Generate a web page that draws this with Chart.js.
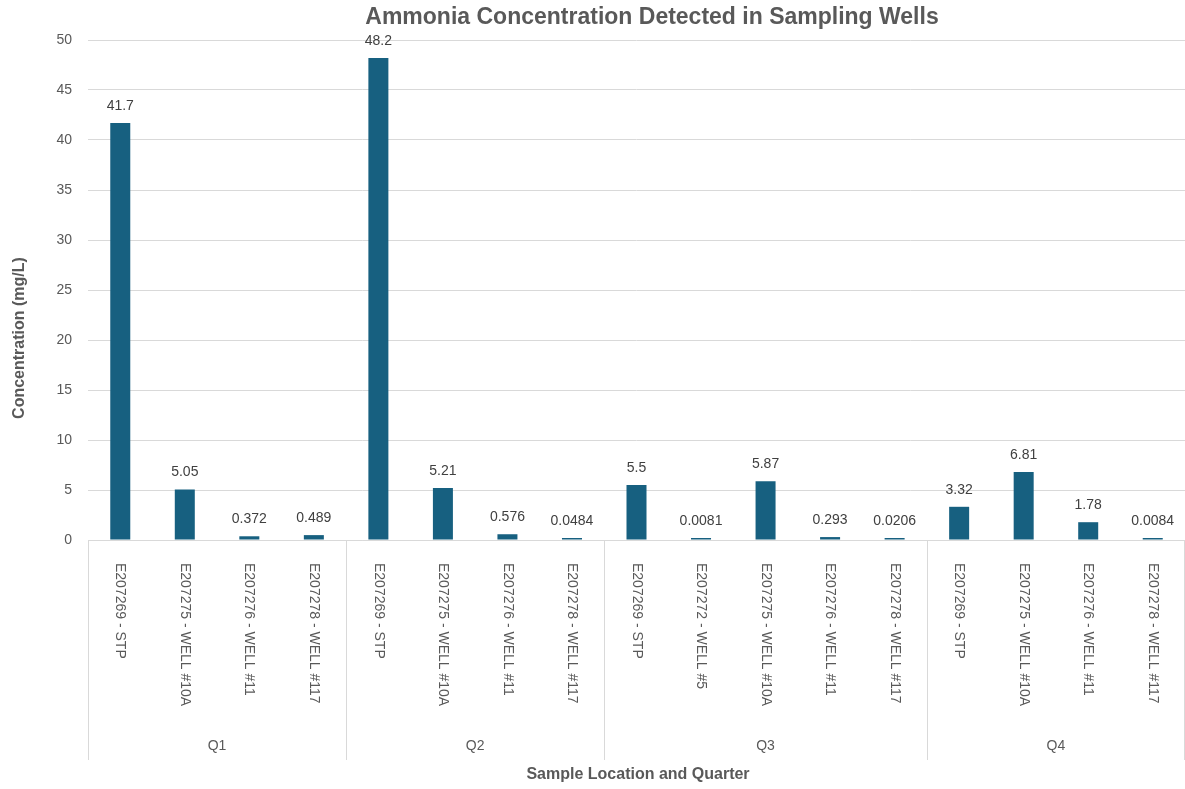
<!DOCTYPE html>
<html>
<head>
<meta charset="utf-8">
<script src="https://cdn.jsdelivr.net/npm/chart.js@4"></script>
<style>
  html, body { margin: 0; padding: 0; background: #fff; }
  #wrap { width: 1185px; height: 789px; position: relative; }
</style>
</head>
<body>
<div id="wrap"><canvas id="chart"></canvas></div>
<script>
// data
const sampleLabels = [
  "E207269 - STP", "E207275 - WELL #10A", "E207276 - WELL #11", "E207278 - WELL #117",
  "E207269 - STP", "E207275 - WELL #10A", "E207276 - WELL #11", "E207278 - WELL #117",
  "E207269 - STP", "E207272 - WELL #5", "E207275 - WELL #10A", "E207276 - WELL #11", "E207278 - WELL #117",
  "E207269 - STP", "E207275 - WELL #10A", "E207276 - WELL #11", "E207278 - WELL #117"
];
const quarters = ["Q1", "Q2", "Q3", "Q4"];
const quarterSizes = [4, 4, 5, 4];
const concentration = [
  41.7, 5.05, 0.372, 0.489,
  48.2, 5.21, 0.576, 0.0484,
  5.5, 0.0081, 5.87, 0.293, 0.0206,
  3.32, 6.81, 1.78, 0.0084
];
const yTicks = [0, 5, 10, 15, 20, 25, 30, 35, 40, 45, 50];

const FONT = "'Liberation Sans', Arial, sans-serif";
const GRAY = "#595959";
const GRID = "#d9d9d9";

/* labels, group lines and titles drawn by hand */
const decorations = {
  id: "decorations",
  afterDatasetsDraw(chart) {
    const ctx = chart.ctx;
    const meta = chart.getDatasetMeta(0);
    ctx.save();
    ctx.fillStyle = "#404040";
    ctx.font = "14px " + FONT;
    ctx.textAlign = "center";
    ctx.textBaseline = "middle";
    meta.data.forEach((bar, i) => {
      ctx.fillText(String(concentration[i]), bar.x, bar.y - 17);
    });
    ctx.restore();
  },
  afterDraw(chart) {
    const ctx = chart.ctx;
    const xs = chart.scales.x;
    const area = chart.chartArea;
    ctx.save();

    // rotated category labels (read top to bottom)
    ctx.fillStyle = GRAY;
    ctx.font = "14px " + FONT;
    ctx.textAlign = "left";
    ctx.textBaseline = "middle";
    sampleLabels.forEach((lab, i) => {
      const x = xs.getPixelForValue(i);
      ctx.save();
      ctx.translate(x, area.bottom + 23);
      ctx.rotate(Math.PI / 2);
      ctx.fillText(lab, 0, 0);
      ctx.restore();
    });

    // quarter group separators and names
    ctx.strokeStyle = GRID;
    ctx.lineWidth = 1;
    const half = (xs.getPixelForValue(1) - xs.getPixelForValue(0)) / 2;
    let start = 0;
    const edges = [xs.getPixelForValue(0) - half];
    quarterSizes.forEach(n => {
      start += n;
      edges.push(xs.getPixelForValue(start - 1) + half);
    });
    edges.forEach((ex, k) => {
      const px = Math.round(ex) + (k === edges.length - 1 ? -0.5 : 0.5);
      ctx.beginPath();
      ctx.moveTo(px, area.bottom);
      ctx.lineTo(px, 760);
      ctx.stroke();
    });
    ctx.textAlign = "center";
    quarters.forEach((q, k) => {
      ctx.fillText(q, (edges[k] + edges[k + 1]) / 2, 746);
    });

    // chart title
    ctx.font = "bold 23px " + FONT;
    ctx.fillText("Ammonia Concentration Detected in Sampling Wells", 652, 18);

    // axis titles
    ctx.font = "bold 16px " + FONT;
    ctx.fillText("Sample Location and Quarter", 638, 775);
    ctx.save();
    ctx.translate(20, 338);
    ctx.rotate(-Math.PI / 2);
    ctx.fillText("Concentration (mg/L)", 0, 0);
    ctx.restore();

    ctx.restore();
  }
};

new Chart(document.getElementById("chart"), {
  type: "bar",
  data: {
    labels: sampleLabels.map((s, i) => i),
    datasets: [{
      data: concentration,
      backgroundColor: "#176080",
      barPercentage: 0.31,
      categoryPercentage: 1,
      minBarLength: 2
    }]
  },
  options: {
    responsive: true,
    maintainAspectRatio: false,
    animation: false,
    layout: { padding: { top: 40, left: 0, right: 0, bottom: 0 } },
    plugins: { legend: { display: false }, tooltip: { enabled: false }, title: { display: false } },
    scales: {
      x: {
        grid: { display: false },
        border: { color: GRID },
        ticks: { display: false },
        afterFit: s => { s.height = 249; }
      },
      y: {
        min: 0,
        max: 50,
        afterBuildTicks: s => { s.ticks = yTicks.map(v => ({ value: v })); },
        grid: { color: GRID, drawTicks: false },
        border: { display: false },
        ticks: { color: GRAY, font: { family: FONT, size: 14 }, padding: 16 },
        afterFit: s => { s.width = 88; }
      }
    }
  },
  plugins: [decorations]
});
</script>
</body>
</html>
